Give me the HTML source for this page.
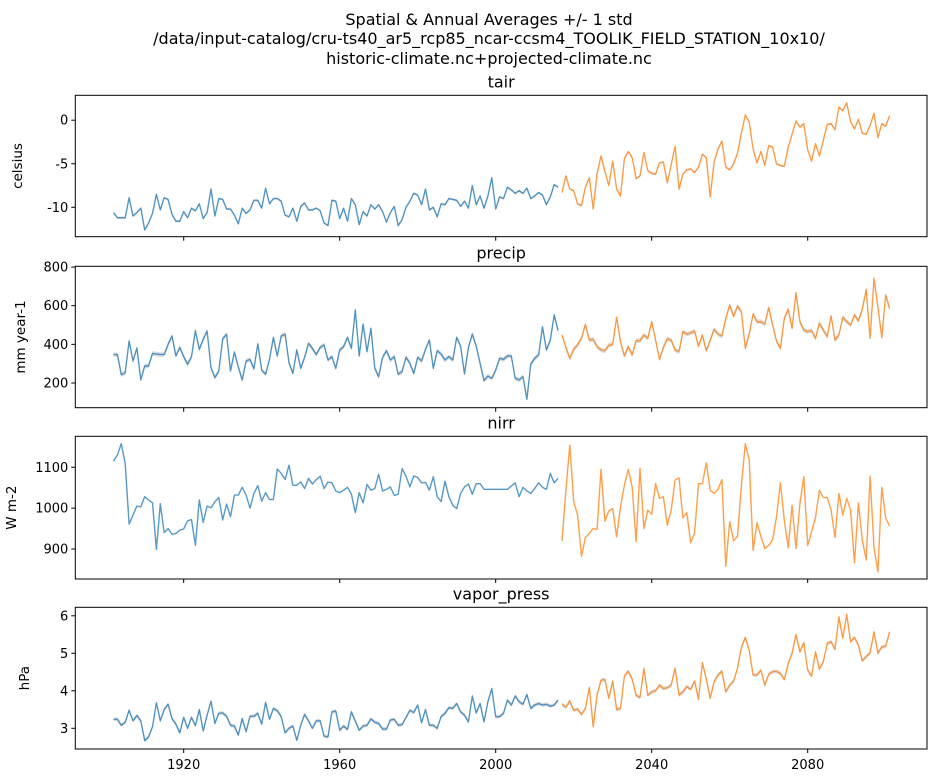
<!DOCTYPE html>
<html><head><meta charset="utf-8">
<style>
body{margin:0;background:#fff;}
svg{display:block;font-family:"DejaVu Sans","Liberation Sans",sans-serif;}
</style></head>
<body>
<svg id="chart" width="937" height="783" viewBox="0 0 937 783" xmlns="http://www.w3.org/2000/svg">
<text x="489" y="25" font-size="16" text-anchor="middle">Spatial &amp; Annual Averages +/- 1 std</text>
<text x="489" y="44" font-size="16" text-anchor="middle">/data/input-catalog/cru-ts40_ar5_rcp85_ncar-ccsm4_TOOLIK_FIELD_STATION_10x10/</text>
<text x="489" y="64" font-size="16" text-anchor="middle">historic-climate.nc+projected-climate.nc</text>
</svg>
<script>
const histYears = [];
for (let y = 1902; y <= 2016; y++) histYears.push(y);
const projYears = [];
for (let y = 2017; y <= 2101; y++) projYears.push(y);
const xTicks = [1920, 1960, 2000, 2040, 2080];

const tairHist = [-10.6,-11.2,-11.2,-11.2,-8.9,-11.0,-10.6,-10.1,-12.6,-11.8,-10.7,-8.5,-10.3,-8.9,-9.1,-10.8,-11.6,-11.6,-10.5,-11.2,-10.1,-10.4,-9.6,-11.3,-10.6,-7.9,-11.0,-9.0,-9.1,-10.2,-10.2,-10.9,-11.9,-10.1,-10.7,-10.3,-9.2,-9.2,-10.1,-7.8,-9.6,-9.0,-9.0,-9.3,-10.9,-11.1,-10.1,-11.6,-9.9,-9.5,-10.3,-10.3,-10.1,-10.4,-11.8,-12.1,-9.2,-9.3,-11.3,-10.1,-11.6,-9.0,-9.7,-12.0,-10.5,-11.0,-9.7,-10.2,-9.7,-10.5,-11.7,-10.6,-9.9,-12.1,-11.4,-10.0,-9.3,-8.4,-8.6,-9.7,-7.9,-10.3,-10.0,-11.1,-9.6,-9.7,-9.0,-9.1,-9.2,-9.9,-9.3,-10.1,-7.5,-9.7,-8.7,-10.1,-8.7,-6.6,-10.2,-8.8,-9.0,-7.7,-8.0,-8.4,-8.1,-8.4,-7.8,-9.0,-8.7,-8.3,-8.6,-9.7,-8.8,-7.4,-7.7];
const tairProj = [-8.3,-6.4,-7.9,-8.1,-9.6,-9.8,-7.7,-6.6,-10.2,-6.1,-4.1,-5.9,-7.5,-4.7,-7.9,-8.7,-4.4,-3.6,-4.3,-6.7,-6.4,-3.7,-5.8,-6.1,-6.2,-4.9,-4.8,-7.2,-5.1,-3.0,-7.9,-6.2,-5.7,-5.6,-6.0,-5.4,-3.9,-4.3,-8.8,-4.8,-3.3,-2.4,-5.4,-5.7,-5.0,-3.8,-1.5,0.6,-0.2,-3.3,-4.9,-3.6,-5.2,-2.9,-3.1,-5.0,-5.2,-5.3,-3.1,-1.6,-0.1,-0.8,-0.4,-3.4,-4.7,-2.7,-4.1,-2.3,-0.5,-0.4,-1.1,1.5,1.1,2.0,-0.2,-1.0,0.1,-1.5,-1.6,-0.6,0.8,-2.0,-0.4,-0.7,0.5];
const tairTicks = [0, -5, -10];

const precipHist = [347,347,243,253,417,314,381,216,288,288,353,350,347,347,400,443,340,384,336,297,336,471,374,426,469,279,228,262,429,452,262,360,284,216,314,322,274,402,267,245,322,436,340,443,453,305,250,371,276,333,405,379,347,384,397,319,336,276,371,388,436,379,578,340,505,362,483,276,233,333,367,319,336,245,259,333,302,250,333,314,374,422,276,367,350,319,336,319,436,391,247,384,453,391,302,212,236,224,267,328,322,340,340,224,216,233,116,298,328,345,491,371,422,552,471];
const precipProj = [448,384,328,374,397,431,503,422,426,388,371,367,395,400,540,414,340,388,345,419,419,448,431,517,422,322,384,428,422,371,362,466,453,459,469,391,448,367,422,478,453,443,534,603,545,598,569,379,453,557,517,517,505,590,500,417,379,534,581,483,667,517,474,466,471,431,509,474,440,547,422,448,540,517,500,552,522,581,684,431,741,595,436,655,586];
const precipTicks = [200, 400, 600, 800];

const nirrHist = [1115,1130,1158,1109,961,983,1005,1003,1028,1020,1013,899,1011,940,950,936,938,946,949,969,972,909,1020,965,1005,1001,1016,1026,971,1010,979,1032,1032,1051,1032,1000,1036,1055,1017,1038,1021,1021,1096,1085,1070,1105,1056,1056,1064,1048,1073,1059,1070,1078,1048,1064,1062,1042,1038,1044,1051,1034,989,1038,1013,1058,1044,1048,1083,1042,1046,1052,1031,1034,1097,1078,1052,1079,1075,1062,1063,1044,1077,1028,1016,1066,1028,1007,999,1036,1052,1059,1034,1060,1060,1046,1046,1046,1046,1046,1046,1046,1054,1062,1028,1051,1042,1036,1048,1062,1051,1046,1085,1062,1073];
const nirrProj = [920,1044,1154,1016,983,882,928,938,950,948,1095,968,993,999,930,1003,1056,1095,1051,918,1097,950,995,985,1060,1024,1028,958,995,1069,1074,976,989,915,940,1060,1060,1111,1044,1036,1046,1070,858,967,920,931,1056,1158,1118,896,964,931,901,909,922,979,1062,971,903,1007,901,1011,1077,908,942,977,1044,1026,1026,995,928,1036,983,1024,995,866,1013,922,873,1078,904,844,1051,975,956];
const nirrTicks = [900, 1000, 1100];

const vaporHist = [3.24,3.24,3.08,3.16,3.48,3.20,3.34,3.20,2.67,2.77,3.04,3.68,3.20,3.50,3.64,3.26,3.11,2.88,3.29,3.00,3.29,3.07,3.50,2.93,3.35,3.72,3.13,3.40,3.41,3.32,3.08,3.06,2.82,3.26,2.91,3.32,3.32,3.40,3.11,3.69,3.24,3.53,3.47,3.31,2.88,3.00,3.06,2.68,3.08,3.37,3.20,3.00,3.20,3.20,2.79,2.77,3.44,3.46,2.95,3.06,2.97,3.44,3.19,2.95,3.06,3.08,3.25,3.16,3.13,2.98,2.98,3.22,3.24,3.08,3.10,3.29,3.48,3.42,3.62,3.15,3.50,3.08,3.08,3.00,3.31,3.40,3.55,3.53,3.66,3.44,3.35,3.17,3.86,3.41,3.66,3.17,3.71,4.06,3.31,3.31,3.40,3.75,3.62,3.86,3.71,3.64,3.90,3.53,3.62,3.66,3.62,3.64,3.59,3.62,3.75];
const vaporProj = [3.64,3.56,3.73,3.48,3.51,3.37,3.53,4.09,3.04,3.90,4.28,4.30,3.80,4.26,3.50,3.53,4.39,4.52,4.31,3.88,3.82,4.60,3.88,3.97,4.00,4.15,4.06,4.08,4.15,4.60,3.88,3.97,4.11,4.04,4.26,3.77,4.75,4.31,3.80,4.24,4.42,4.52,3.97,4.15,4.26,4.60,5.16,5.42,5.08,4.42,4.42,4.55,4.15,4.44,4.51,4.52,4.46,4.30,4.73,5.00,5.50,5.04,5.28,4.55,4.39,5.04,4.58,4.77,5.26,5.31,5.10,5.97,5.40,6.04,5.31,5.42,5.22,4.80,4.91,5.01,5.57,5.00,5.17,5.19,5.57];
const vaporTicks = [3, 4, 5, 6];

const stds = [0.12, 12, 0, 0.05];

const svg = document.getElementById('chart');
const NS = 'http://www.w3.org/2000/svg';
const X0 = 75.3, X1 = 927;
const xScale = y => 183.7 + (y - 1920) * 3.9;

function mk(tag, attrs, parent) {
  const e = document.createElementNS(NS, tag);
  for (const k in attrs) e.setAttribute(k, attrs[k]);
  (parent || svg).appendChild(e);
  return e;
}

const panels = [
  {name:'tair', unit:'celsius', top:95.3, bot:236.7, v0:0, p0:120.2, v1:-10, p1:207.3, hist:tairHist, proj:tairProj, ticks:tairTicks, lx:22},
  {name:'precip', unit:'mm year-1', top:266.3, bot:407.7, v0:200, p0:383, v1:600, p1:305.7, hist:precipHist, proj:precipProj, ticks:precipTicks, lx:25},
  {name:'nirr', unit:'W m-2', top:436.3, bot:579, v0:900, p0:549, v1:1100, p1:467.3, hist:nirrHist, proj:nirrProj, ticks:nirrTicks, lx:16},
  {name:'vapor_press', unit:'hPa', top:607.3, bot:749, v0:3, p0:728.3, v1:5, p1:653.3, hist:vaporHist, proj:vaporProj, ticks:vaporTicks, lx:29}
];

panels.forEach((p, pi) => {
  const g = mk('g', {});
  
  
  const yS = v => p.p0 + (v - p.v0) * (p.p1 - p.p0) / (p.v1 - p.v0);
  const title = mk('text', {x:(X0+X1)/2, y:p.top-8, 'font-size':16, 'text-anchor':'middle'}, g);
  title.textContent = p.name;
  
  
  const yl = mk('text', {x:p.lx, y:(p.top+p.bot)/2, 'font-size':13.5, 'text-anchor':'middle', transform:`rotate(-90 ${p.lx} ${(p.top+p.bot)/2})`}, g);
  yl.textContent = p.unit;
  
  
  const sd = stds[pi];
  [[histYears, p.hist, '#1f77b4'], [projYears, p.proj, '#ff7f0e']].forEach(([yrs, vals, col], si) => {
    if (sd > 0) {
      let d = '';
      yrs.forEach((yr, i) => { d += (i ? 'L' : 'M') + xScale(yr).toFixed(2) + ',' + yS(vals[i] + sd).toFixed(2); });
      for (let i = yrs.length - 1; i >= 0; i--) d += 'L' + xScale(yrs[i]).toFixed(2) + ',' + yS(vals[i] - sd).toFixed(2);
      const band = mk('path', {d: d + 'Z', fill:'#999', 'fill-opacity':0.35, stroke:'none'}, g);
      
      
    }
    const pts = yrs.map((yr, i) => xScale(yr).toFixed(2) + ',' + yS(vals[i]).toFixed(2)).join(' ');
    const line = mk('polyline', {points: pts, fill:'none', stroke:col, 'stroke-opacity':0.75, 'stroke-width':1.4, 'stroke-linejoin':'round'}, g);
    
    
  });
  const frame = mk('rect', {x:X0, y:p.top, width:X1-X0, height:p.bot-p.top, fill:'none', stroke:'#000', 'stroke-width':1}, g);
  
  
  p.ticks.forEach(t => {
    const y = yS(t);
    mk('line', {x1:X0-4, x2:X0, y1:y, y2:y, stroke:'#000', 'stroke-width':1}, g);
    const tl = mk('text', {x:X0-7, y:y+4.5, 'font-size':13, 'text-anchor':'end'}, g);
    tl.textContent = String(t);
    
    
  });
  xTicks.forEach(t => {
    const x = xScale(t);
    mk('line', {x1:x, x2:x, y1:p.bot, y2:p.bot+4, stroke:'#000', 'stroke-width':1}, g);
    if (pi === 3) {
      const tl = mk('text', {x:x, y:p.bot+20, 'font-size':13, 'text-anchor':'middle'}, g);
      tl.textContent = String(t);
      
      
    }
  });
});
</script>
</body></html>
